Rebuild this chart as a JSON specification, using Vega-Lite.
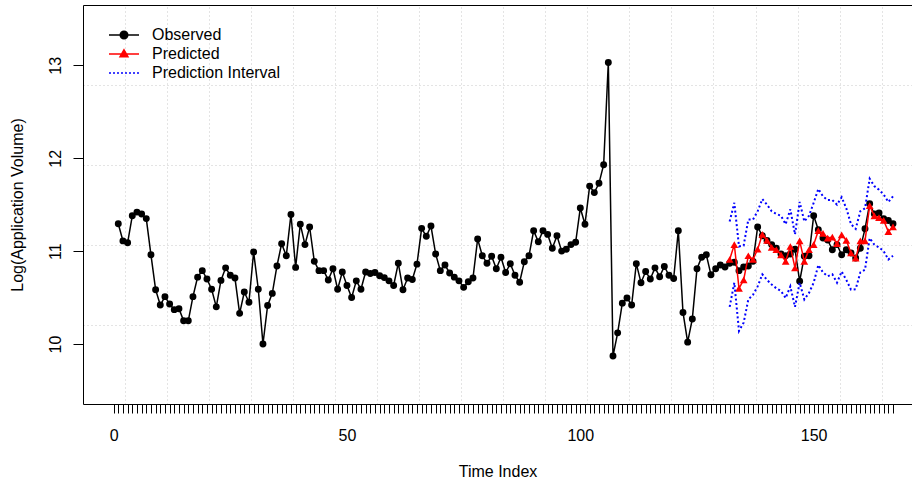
{
  "$schema": "https://vega.github.io/schema/vega-lite/v6.json",
  "width": 829,
  "height": 399,
  "autosize": {"type": "none"},
  "padding": {"left": 83, "top": 5, "right": 0, "bottom": 81},
  "background": "white",
  "config": {
    "view": {"stroke": null},
    "font": "Liberation Sans",
    "axis": {"labelFont": "Liberation Sans", "titleFont": "Liberation Sans", "labelFontSize": 16, "titleFontSize": 16, "titleFontWeight": "normal", "labelColor": "black", "titleColor": "black"}
  },
  "datasets": {
    "obs": [
      {"t":1,"v":11.295},{"t":2,"v":11.11},{"t":3,"v":11.09},{"t":4,"v":11.38},{"t":5,"v":11.42},{"t":6,"v":11.40},{"t":7,"v":11.35},{"t":8,"v":10.96},{"t":9,"v":10.585},{"t":10,"v":10.42},
      {"t":11,"v":10.51},{"t":12,"v":10.43},{"t":13,"v":10.37},{"t":14,"v":10.38},{"t":15,"v":10.25},{"t":16,"v":10.25},{"t":17,"v":10.51},{"t":18,"v":10.72},{"t":19,"v":10.79},{"t":20,"v":10.70},
      {"t":21,"v":10.59},{"t":22,"v":10.40},{"t":23,"v":10.685},{"t":24,"v":10.82},{"t":25,"v":10.74},{"t":26,"v":10.71},{"t":27,"v":10.33},{"t":28,"v":10.56},{"t":29,"v":10.45},{"t":30,"v":10.99},
      {"t":31,"v":10.59},{"t":32,"v":10.00},{"t":33,"v":10.415},{"t":34,"v":10.545},{"t":35,"v":10.84},{"t":36,"v":11.08},{"t":37,"v":10.95},{"t":38,"v":11.395},{"t":39,"v":10.825},{"t":40,"v":11.29},
      {"t":41,"v":11.07},{"t":42,"v":11.26},{"t":43,"v":10.89},{"t":44,"v":10.79},{"t":45,"v":10.79},{"t":46,"v":10.69},{"t":47,"v":10.81},{"t":48,"v":10.59},{"t":49,"v":10.775},{"t":50,"v":10.63},
      {"t":51,"v":10.50},{"t":52,"v":10.68},{"t":53,"v":10.59},{"t":54,"v":10.775},{"t":55,"v":10.76},{"t":56,"v":10.77},{"t":57,"v":10.735},{"t":58,"v":10.715},{"t":59,"v":10.68},{"t":60,"v":10.63},
      {"t":61,"v":10.87},{"t":62,"v":10.585},{"t":63,"v":10.71},{"t":64,"v":10.695},{"t":65,"v":10.86},{"t":66,"v":11.245},{"t":67,"v":11.16},{"t":68,"v":11.27},{"t":69,"v":10.97},{"t":70,"v":10.79},
      {"t":71,"v":10.85},{"t":72,"v":10.765},{"t":73,"v":10.72},{"t":74,"v":10.68},{"t":75,"v":10.61},{"t":76,"v":10.67},{"t":77,"v":10.71},{"t":78,"v":11.13},{"t":79,"v":10.95},{"t":80,"v":10.87},
      {"t":81,"v":10.945},{"t":82,"v":10.81},{"t":83,"v":10.935},{"t":84,"v":10.77},{"t":85,"v":10.865},{"t":86,"v":10.74},{"t":87,"v":10.665},{"t":88,"v":10.885},{"t":89,"v":10.95},{"t":90,"v":11.22},
      {"t":91,"v":11.10},{"t":92,"v":11.22},{"t":93,"v":11.18},{"t":94,"v":11.03},{"t":95,"v":11.165},{"t":96,"v":11.00},{"t":97,"v":11.02},{"t":98,"v":11.07},{"t":99,"v":11.095},{"t":100,"v":11.465},
      {"t":101,"v":11.29},{"t":102,"v":11.70},{"t":103,"v":11.63},{"t":104,"v":11.73},{"t":105,"v":11.93},{"t":106,"v":13.03},{"t":107,"v":9.87},{"t":108,"v":10.12},{"t":109,"v":10.44},{"t":110,"v":10.495},
      {"t":111,"v":10.42},{"t":112,"v":10.865},{"t":113,"v":10.66},{"t":114,"v":10.78},{"t":115,"v":10.70},{"t":116,"v":10.82},{"t":117,"v":10.725},{"t":118,"v":10.835},{"t":119,"v":10.74},{"t":120,"v":10.705},
      {"t":121,"v":11.22},{"t":122,"v":10.34},{"t":123,"v":10.02},{"t":124,"v":10.27},{"t":125,"v":10.81},{"t":126,"v":10.935},{"t":127,"v":10.96},{"t":128,"v":10.745},{"t":129,"v":10.81},{"t":130,"v":10.85},
      {"t":131,"v":10.83},{"t":132,"v":10.87},{"t":133,"v":10.88},{"t":134,"v":10.79},{"t":135,"v":10.83},{"t":136,"v":10.84},{"t":137,"v":10.89},{"t":138,"v":11.26},{"t":139,"v":11.165},{"t":140,"v":11.115},
      {"t":141,"v":11.07},{"t":142,"v":11.03},{"t":143,"v":10.97},{"t":144,"v":10.95},{"t":145,"v":10.97},{"t":146,"v":11.02},{"t":147,"v":10.675},{"t":148,"v":10.945},{"t":149,"v":10.95},{"t":150,"v":11.38},
      {"t":151,"v":11.23},{"t":152,"v":11.14},{"t":153,"v":11.12},{"t":154,"v":11.015},{"t":155,"v":11.07},{"t":156,"v":10.96},{"t":157,"v":11.015},{"t":158,"v":10.98},{"t":159,"v":10.925},{"t":160,"v":11.03},
      {"t":161,"v":11.24},{"t":162,"v":11.51},{"t":163,"v":11.40},{"t":164,"v":11.41},{"t":165,"v":11.35},{"t":166,"v":11.33},{"t":167,"v":11.295}
    ],
    "pred": [
      {"t":132,"p":10.91,"lo":10.40,"hi":11.32},{"t":133,"p":11.07,"lo":10.66,"hi":11.52},{"t":134,"p":10.60,"lo":10.14,"hi":11.05},{"t":135,"p":10.69,"lo":10.23,"hi":11.06},
      {"t":136,"p":10.95,"lo":10.48,"hi":11.34},{"t":137,"p":10.91,"lo":10.53,"hi":11.34},{"t":138,"p":11.02,"lo":10.62,"hi":11.43},{"t":139,"p":11.18,"lo":10.75,"hi":11.56},
      {"t":140,"p":11.115,"lo":10.69,"hi":11.50},{"t":141,"p":11.04,"lo":10.64,"hi":11.43},{"t":142,"p":11.015,"lo":10.60,"hi":11.40},{"t":143,"p":10.96,"lo":10.57,"hi":11.38},
      {"t":144,"p":10.89,"lo":10.495,"hi":11.29},{"t":145,"p":11.05,"lo":10.62,"hi":11.45},{"t":146,"p":10.82,"lo":10.40,"hi":11.18},{"t":147,"p":11.11,"lo":10.66,"hi":11.53},
      {"t":148,"p":10.89,"lo":10.48,"hi":11.32},{"t":149,"p":11.015,"lo":10.55,"hi":11.38},{"t":150,"p":11.07,"lo":10.66,"hi":11.52},{"t":151,"p":11.22,"lo":10.85,"hi":11.67},
      {"t":152,"p":11.19,"lo":10.77,"hi":11.59},{"t":153,"p":11.14,"lo":10.73,"hi":11.55},{"t":154,"p":11.15,"lo":10.75,"hi":11.55},{"t":155,"p":11.08,"lo":10.66,"hi":11.50},
      {"t":156,"p":11.175,"lo":10.78,"hi":11.58},{"t":157,"p":11.115,"lo":10.69,"hi":11.46},{"t":158,"p":10.98,"lo":10.585,"hi":11.29},{"t":159,"p":10.925,"lo":10.59,"hi":11.24},
      {"t":160,"p":11.11,"lo":10.77,"hi":11.43},{"t":161,"p":11.11,"lo":10.80,"hi":11.46},{"t":162,"p":11.49,"lo":11.14,"hi":11.78},{"t":163,"p":11.38,"lo":11.07,"hi":11.70},
      {"t":164,"p":11.36,"lo":11.04,"hi":11.66},{"t":165,"p":11.33,"lo":11.00,"hi":11.61},{"t":166,"p":11.21,"lo":10.91,"hi":11.53},{"t":167,"p":11.26,"lo":10.95,"hi":11.59}
    ]
  },
  "resolve": {"axis": {"x": "independent", "y": "independent"}},
  "layer": [
    {
      "data": {"name": "obs"},
      "mark": {"type": "line", "strokeWidth": 1.5, "clip": true},
      "encoding": {
        "x": {"field": "t", "type": "quantitative",
          "scale": {"domain": [-6.56, 171.07], "nice": false, "zero": false},
          "axis": {"orient": "bottom", "grid": false,
            "values": [0,1,2,3,4,5,6,7,8,9,10,11,12,13,14,15,16,17,18,19,20,21,22,23,24,25,26,27,28,29,30,31,32,33,34,35,36,37,38,39,40,41,42,43,44,45,46,47,48,49,50,51,52,53,54,55,56,57,58,59,60,61,62,63,64,65,66,67,68,69,70,71,72,73,74,75,76,77,78,79,80,81,82,83,84,85,86,87,88,89,90,91,92,93,94,95,96,97,98,99,100,101,102,103,104,105,106,107,108,109,110,111,112,113,114,115,116,117,118,119,120,121,122,123,124,125,126,127,128,129,130,131,132,133,134,135,136,137,138,139,140,141,142,143,144,145,146,147,148,149,150,151,152,153,154,155,156,157,158,159,160,161,162,163,164,165,166,167],
            "labelExpr": "datum.value % 50 === 0 ? datum.label : ''",
            "labelOverlap": false, "labelFlush": false,
            "tickSize": 9, "tickColor": "black", "tickWidth": 1,
            "domainColor": "black", "domainWidth": 1,
            "labelPadding": 14, "title": "Time Index", "titlePadding": 20}},
        "y": {"field": "v", "type": "quantitative",
          "scale": {"domain": [9.354, 13.65], "nice": false, "zero": false},
          "axis": {"orient": "left", "grid": false, "values": [10, 11, 12, 13],
            "labelAngle": 270, "labelAlign": "center", "labelBaseline": "bottom",
            "tickSize": 10, "tickColor": "black", "domainColor": "black", "domainWidth": 1,
            "labelPadding": 10, "title": "Log(Application Volume)", "titlePadding": 22}},
        "color": {"datum": "Observed", "type": "nominal",
          "scale": {"domain": ["Observed", "Predicted", "Prediction Interval"], "range": ["black", "red", "blue"]},
          "legend": {"orient": "none", "legendX": 31, "legendY": 20, "title": null, "padding": 0,
            "symbolSize": 324, "labelFontSize": 16, "labelFont": "Liberation Sans", "labelColor": "black",
            "labelOffset": 18, "rowPadding": 1, "symbolStrokeWidth": 1.5,
            "encode": {"symbols": {"update": {
              "shape": {"signal": "datum.value === 'Observed' ? 'M-1.667,0H1.667M0.42,0A0.42,0.42 0 1 1 -0.42,0A0.42,0.42 0 1 1 0.42,0Z' : datum.value === 'Predicted' ? 'M-1.667,0H1.667M0,-0.47L0.44,0.3L-0.44,0.3Z' : 'M-1.667,0H1.667'"},
              "fill": {"scale": "color", "field": "value"},
              "stroke": {"scale": "color", "field": "value"},
              "strokeDash": {"signal": "datum.value === 'Prediction Interval' ? [2, 2] : []"},
              "strokeWidth": {"value": 1.5},
              "opacity": {"value": 1}
            }}}}}
      }
    },
    {
      "data": {"name": "obs"},
      "mark": {"type": "point", "shape": "circle", "filled": true, "size": 48, "opacity": 1, "clip": true},
      "encoding": {
        "x": {"field": "t", "type": "quantitative",
          "axis": {"orient": "top", "grid": true, "gridColor": "#c8c8c8", "gridDash": [1, 3], "gridWidth": 1,
            "values": [2.45, 11.46, 20.46, 29.47, 38.47, 47.48, 56.49, 65.49, 74.5, 83.5, 92.51, 101.52, 110.52, 119.53, 128.53, 137.54, 146.55, 155.55, 164.56],
            "ticks": false, "labels": false, "domain": true, "domainColor": "black", "title": null}},
        "y": {"field": "v", "type": "quantitative",
          "axis": {"orient": "right", "grid": true, "gridColor": "#c8c8c8", "gridDash": [1, 3], "gridWidth": 1,
            "values": [10.205, 11.066, 11.927, 12.789],
            "ticks": false, "labels": false, "domain": false, "title": null}},
        "color": {"datum": "Observed", "type": "nominal"}
      }
    },
    {
      "data": {"name": "pred"},
      "mark": {"type": "line", "strokeWidth": 1.5, "clip": true},
      "encoding": {
        "x": {"field": "t", "type": "quantitative", "axis": null},
        "y": {"field": "p", "type": "quantitative", "axis": null},
        "color": {"datum": "Predicted", "type": "nominal"}
      }
    },
    {
      "data": {"name": "pred"},
      "mark": {"type": "point", "shape": "triangle-up", "filled": true, "size": 60, "opacity": 1, "clip": true},
      "encoding": {
        "x": {"field": "t", "type": "quantitative", "axis": null},
        "y": {"field": "p", "type": "quantitative", "axis": null},
        "color": {"datum": "Predicted", "type": "nominal"}
      }
    },
    {
      "data": {"name": "pred"},
      "mark": {"type": "line", "strokeWidth": 2, "strokeDash": [2, 2.5], "clip": true},
      "encoding": {
        "x": {"field": "t", "type": "quantitative", "axis": null},
        "y": {"field": "lo", "type": "quantitative", "axis": null},
        "color": {"datum": "Prediction Interval", "type": "nominal"}
      }
    },
    {
      "data": {"name": "pred"},
      "mark": {"type": "line", "strokeWidth": 2, "strokeDash": [2, 2.5], "clip": true},
      "encoding": {
        "x": {"field": "t", "type": "quantitative", "axis": null},
        "y": {"field": "hi", "type": "quantitative", "axis": null},
        "color": {"datum": "Prediction Interval", "type": "nominal"}
      }
    }
  ]
}
